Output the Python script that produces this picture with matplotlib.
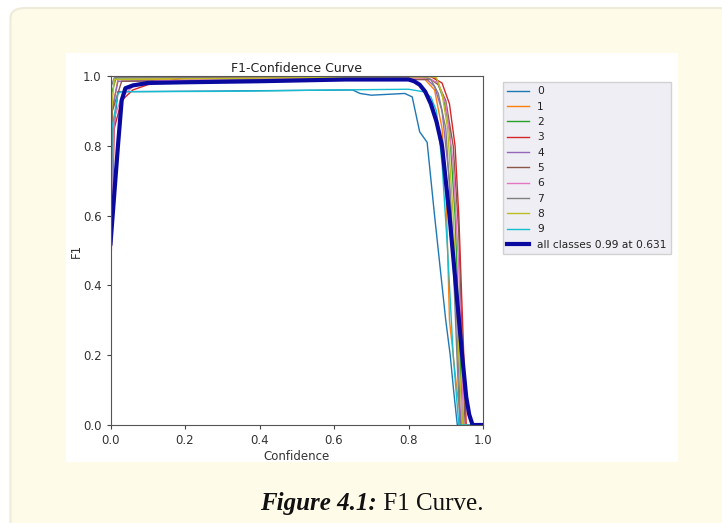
import matplotlib
matplotlib.use('Agg')
import matplotlib.pyplot as plt
from matplotlib.patches import FancyBboxPatch, Rectangle

# F1 vs confidence
c0_x = [0, 0.004, 0.02, 0.3, 0.65, 0.67, 0.7, 0.79, 0.81, 0.83, 0.85, 0.87, 0.89, 0.9, 0.912, 0.921, 0.931, 1.0]
c0_y = [0.16, 0.8, 0.955, 0.957, 0.96, 0.95, 0.945, 0.95, 0.94, 0.84, 0.81, 0.6, 0.4, 0.3, 0.2, 0.1, 0.0, 0.0]
c1_x = [0, 0.004, 0.02, 0.5, 0.84, 0.87, 0.89, 0.9, 0.91, 0.93, 0.943, 1.0]
c1_y = [0.3, 0.9, 0.99, 0.995, 0.995, 0.96, 0.85, 0.7, 0.3, 0.1, 0.0, 0.0]
c2_x = [0, 0.003, 0.015, 0.5, 0.86, 0.875, 0.895, 0.91, 0.925, 0.935, 0.945, 1.0]
c2_y = [0.5, 0.95, 0.995, 0.998, 1.0, 0.99, 0.93, 0.85, 0.6, 0.3, 0.0, 0.0]
c3_x = [0, 0.01, 0.03, 0.06, 0.1, 0.2, 0.5, 0.86, 0.89, 0.91, 0.925, 0.935, 0.945, 0.955, 1.0]
c3_y = [0.4, 0.85, 0.93, 0.96, 0.975, 0.995, 0.998, 0.998, 0.98, 0.92, 0.8, 0.6, 0.3, 0.0, 0.0]
c4_x = [0, 0.004, 0.02, 0.5, 0.85, 0.87, 0.89, 0.91, 0.93, 0.94, 1.0]
c4_y = [0.3, 0.9, 0.985, 0.99, 0.99, 0.97, 0.9, 0.7, 0.3, 0.0, 0.0]
c5_x = [0, 0.005, 0.03, 0.5, 0.86, 0.88, 0.9, 0.92, 0.935, 0.945, 0.952, 1.0]
c5_y = [0.4, 0.9, 0.985, 0.99, 0.99, 0.975, 0.93, 0.8, 0.55, 0.2, 0.0, 0.0]
c6_x = [0, 0.01, 0.03, 0.06, 0.12, 0.3, 0.85, 0.88, 0.9, 0.92, 0.935, 0.948, 1.0]
c6_y = [0.5, 0.88, 0.94, 0.97, 0.985, 0.993, 0.995, 0.98, 0.92, 0.75, 0.45, 0.0, 0.0]
c7_x = [0, 0.002, 0.01, 0.5, 0.84, 0.86, 0.88, 0.9, 0.915, 0.93, 0.938, 1.0]
c7_y = [0.6, 0.97, 0.995, 0.998, 0.998, 0.99, 0.95, 0.85, 0.6, 0.2, 0.0, 0.0]
c8_x = [0, 0.003, 0.01, 0.5, 0.86, 0.875, 0.89, 0.905, 0.92, 0.935, 0.945, 1.0]
c8_y = [0.2, 0.9, 0.99, 0.995, 0.998, 0.995, 0.95, 0.85, 0.6, 0.2, 0.0, 0.0]
c9_x = [0, 0.004, 0.02, 0.03, 0.3, 0.6, 0.8, 0.84, 0.86, 0.875, 0.89, 0.905, 0.92, 0.935, 1.0]
c9_y = [0.3, 0.85, 0.95, 0.955, 0.956, 0.96, 0.962, 0.955, 0.94, 0.9, 0.75, 0.5, 0.2, 0.0, 0.0]
all_x = [0, 0.01, 0.02, 0.03, 0.04, 0.06, 0.1, 0.2, 0.4, 0.631, 0.8, 0.815, 0.83, 0.845, 0.86,
         0.875, 0.89, 0.91, 0.927, 0.944, 0.955, 0.963, 0.972, 1.0]
all_y = [0.52, 0.66, 0.8, 0.93, 0.965, 0.973, 0.98, 0.982, 0.985, 0.99, 0.99, 0.985, 0.975, 0.955, 0.92,
         0.87, 0.8, 0.6, 0.4, 0.2, 0.08, 0.03, 0.0, 0.0]

class_x = [c0_x, c1_x, c2_x, c3_x, c4_x, c5_x, c6_x, c7_x, c8_x, c9_x]
class_y = [c0_y, c1_y, c2_y, c3_y, c4_y, c5_y, c6_y, c7_y, c8_y, c9_y]
class_names = ['0', '1', '2', '3', '4', '5', '6', '7', '8', '9']
all_label = 'all classes 0.99 at 0.631'

W, H = 722, 523
fig = plt.figure(figsize=(W / 100, H / 100), dpi=100)
fig.patch.set_facecolor('white')

# page decoration: beige box, white image panel
box = FancyBboxPatch((10.5 / W, -0.05), 1.0, (H - 8) / H + 0.05,
                     boxstyle='round,pad=0,rounding_size=0.02',
                     transform=fig.transFigure, facecolor='#fffbe9',
                     edgecolor='#efebda', linewidth=1.5, zorder=0)
fig.patches.append(box)
panel = Rectangle((66 / W, 1 - 462 / H), (678 - 66) / W, (462 - 53) / H,
                  transform=fig.transFigure, facecolor='white', edgecolor='none', zorder=0.5)
fig.patches.append(panel)

ax = fig.add_axes([110.5 / W, 1 - 425 / H, (483 - 110.5) / W, (425 - 76) / H])
ax.set_zorder(2)
ax.set_facecolor('white')
for i in range(10):
    ax.plot(class_x[i], class_y[i], linewidth=1, color='C%d' % i, label=class_names[i])
ax.plot(all_x, all_y, linewidth=3, color='#0a0aa0', label=all_label)

ax.set_xlim(0, 1)
ax.set_ylim(0, 1)
ax.set_xticks([0, 0.2, 0.4, 0.6, 0.8, 1.0])
ax.set_yticks([0, 0.2, 0.4, 0.6, 0.8, 1.0])
ax.tick_params(labelsize=8.5, length=3, color='#444444', labelcolor='#333333')
for s in ax.spines.values():
    s.set_color('#555555')
ax.set_xlabel('Confidence', fontsize=8.5, color='#333333', labelpad=2)
ax.set_ylabel('F1', fontsize=8.5, color='#333333', labelpad=0)
ax.set_title('F1-Confidence Curve', fontsize=9, color='#222222', pad=3)

leg = ax.legend(loc='upper left', bbox_to_anchor=(503 / W, 1 - 82 / H),
                bbox_transform=fig.transFigure, fontsize=7.7, frameon=True,
                fancybox=False, labelspacing=0.5, handlelength=2.0, borderaxespad=0)
leg.get_frame().set_facecolor('#eaeaf2')
leg.get_frame().set_edgecolor('#c8c8c8')
for t in leg.get_texts():
    t.set_color('#222222')

# caption: bold italic part + regular part
renderer = fig.canvas.get_renderer()
t1 = fig.text(0, 1 - 510 / H, 'Figure 4.1:', fontsize=18, family='Liberation Serif',
              fontweight='bold', style='italic', va='baseline', color='#111111')
t2 = fig.text(0, 1 - 510 / H, ' F1 Curve.', fontsize=18, family='Liberation Serif',
              va='baseline', color='#111111')
w1 = t1.get_window_extent(renderer).width
w2 = t2.get_window_extent(renderer).width
x0 = 372 - (w1 + w2) / 2
t1.set_x(x0 / W)
t2.set_x((x0 + w1) / W)

fig.savefig('out.png', dpi=100, facecolor=fig.get_facecolor())
